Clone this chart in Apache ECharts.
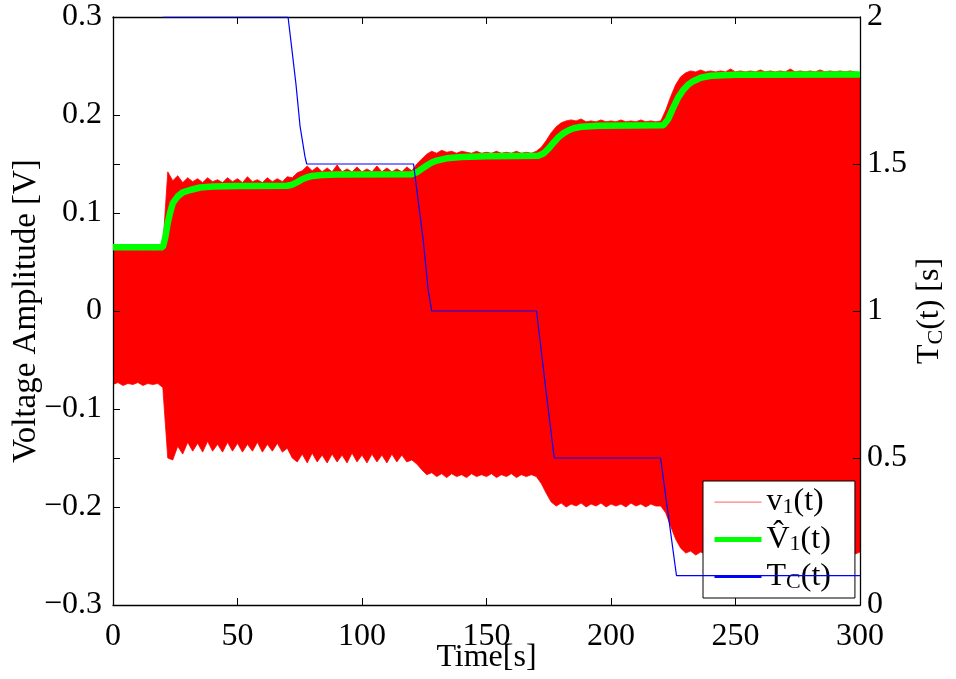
<!DOCTYPE html>
<html><head><meta charset="utf-8">
<script src="https://cdn.jsdelivr.net/npm/echarts@6/dist/echarts.min.js"></script>
<style>html,body{margin:0;padding:0;background:#fff}#c{width:956px;height:679px}</style>
</head><body><div id="c"></div>
<script>
// time samples [s] for the v1(t) envelope
const time = [0,2,4,6,8,10,12,14,16,18,20,22,24,26,28,30,32,34,36,38,40,42,44,46,48,50,52,54,56,58,60,62,64,66,68,70,72,74,76,78,80,82,84,86,88,90,92,94,96,98,100,102,104,106,108,110,112,114,116,118,120,122,124,126,128,130,132,134,136,138,140,142,144,146,148,150,152,154,156,158,160,162,164,166,168,170,172,174,176,178,180,182,184,186,188,190,192,194,196,198,200,202,204,206,208,210,212,214,216,218,220,222,224,226,228,230,232,234,236,238,240,242,244,246,248,250,252,254,256,258,260,262,264,266,268,270,272,274,276,278,280,282,284,286,288,290,292,294,296,298,300];
// upper envelope of v1(t) [V]
const v1Upper = [0.062,0.063,0.062,0.063,0.062,0.063,0.062,0.063,0.062,0.063,0.065,0.142,0.133,0.138,0.131,0.136,0.132,0.135,0.131,0.136,0.132,0.134,0.131,0.136,0.132,0.135,0.131,0.137,0.132,0.134,0.131,0.136,0.132,0.135,0.132,0.137,0.136,0.141,0.143,0.148,0.143,0.147,0.142,0.146,0.142,0.149,0.142,0.145,0.142,0.147,0.142,0.145,0.142,0.148,0.142,0.146,0.142,0.145,0.142,0.147,0.143,0.150,0.155,0.160,0.163,0.161,0.164,0.162,0.163,0.161,0.163,0.162,0.161,0.163,0.161,0.162,0.161,0.163,0.161,0.162,0.161,0.163,0.161,0.162,0.161,0.163,0.167,0.174,0.182,0.188,0.192,0.194,0.195,0.194,0.196,0.193,0.194,0.193,0.195,0.193,0.194,0.193,0.195,0.193,0.194,0.193,0.195,0.193,0.194,0.193,0.194,0.205,0.219,0.231,0.239,0.243,0.245,0.244,0.246,0.244,0.245,0.244,0.245,0.244,0.247,0.244,0.245,0.244,0.245,0.244,0.246,0.244,0.245,0.244,0.245,0.244,0.247,0.244,0.245,0.244,0.245,0.244,0.246,0.244,0.245,0.244,0.245,0.244,0.245,0.244,0.243];
// lower envelope of v1(t) [V]
const v1Lower = [-0.075,-0.073,-0.076,-0.074,-0.075,-0.073,-0.076,-0.074,-0.075,-0.074,-0.078,-0.150,-0.152,-0.138,-0.146,-0.134,-0.143,-0.135,-0.144,-0.133,-0.143,-0.136,-0.144,-0.134,-0.143,-0.135,-0.144,-0.136,-0.143,-0.134,-0.144,-0.136,-0.143,-0.135,-0.144,-0.140,-0.150,-0.154,-0.146,-0.155,-0.145,-0.154,-0.147,-0.155,-0.146,-0.154,-0.147,-0.155,-0.145,-0.154,-0.147,-0.155,-0.146,-0.154,-0.147,-0.155,-0.146,-0.154,-0.147,-0.154,-0.152,-0.156,-0.162,-0.167,-0.165,-0.169,-0.166,-0.170,-0.166,-0.169,-0.167,-0.170,-0.166,-0.169,-0.167,-0.169,-0.166,-0.170,-0.167,-0.169,-0.166,-0.170,-0.167,-0.169,-0.167,-0.169,-0.176,-0.186,-0.195,-0.199,-0.196,-0.200,-0.197,-0.199,-0.196,-0.200,-0.197,-0.199,-0.196,-0.200,-0.197,-0.199,-0.197,-0.200,-0.196,-0.199,-0.197,-0.200,-0.197,-0.199,-0.199,-0.206,-0.220,-0.233,-0.242,-0.247,-0.245,-0.249,-0.246,-0.248,-0.245,-0.248,-0.246,-0.250,-0.245,-0.248,-0.246,-0.248,-0.245,-0.249,-0.246,-0.248,-0.245,-0.248,-0.246,-0.250,-0.245,-0.248,-0.246,-0.248,-0.245,-0.249,-0.246,-0.248,-0.245,-0.248,-0.246,-0.250,-0.245,-0.248,-0.246];
// estimated amplitude V^1(t)
const vhatTime = [0,20,21,22,23,24,26,28,31,35,40,50,70,72,74,76,78,80,84,90,120,122,124,126,128,130,134,140,150,171,173,175,177,179,181,183,185,188,195,221,223,225,227,229,231,233,236,240,250,300];
const vhatValue = [0.065,0.065,0.075,0.090,0.101,0.110,0.117,0.121,0.1235,0.126,0.127,0.1275,0.1278,0.129,0.1315,0.1345,0.1365,0.1378,0.1388,0.1392,0.1395,0.1415,0.145,0.1485,0.1515,0.1535,0.1558,0.1572,0.158,0.1585,0.161,0.166,0.172,0.1775,0.1815,0.1845,0.1865,0.188,0.189,0.1895,0.196,0.2075,0.218,0.2255,0.231,0.2345,0.238,0.240,0.241,0.2412];
// T_C(t) [s]
const tcTime = [20,70.3,71.7,73.5,75.1,77.1,77.8,120.7,124.6,126.6,128,170.1,173.6,177.2,219.9,223.1,226.3,300];
const tcValue = [2,2,1.9,1.77,1.63,1.525,1.5,1.5,1.24,1.07,1.0,1.0,0.75,0.5,0.5,0.3,0.1,0.1];

const legendLabels = {
  v1: '{n|v}{s|1}{n|(t)}',
  vhat: '{n|V\u0302}{s|1}{n|(t)}',
  tc: '{n|T}{s|C}{n|(t)}'
};
const rightAxisName = '{n|T}{s|C}{n|(t) [s]}';
const xAxisName = 'Time[s]';
const leftAxisName = 'Voltage Amplitude [V]';

const FONT = 'Liberation Serif';
const chart = echarts.init(document.getElementById('c'), null, {renderer: 'canvas'});

const fmtLeft = v => {
  const r = Math.round(v * 10) / 10;
  if (r === 0) return '0';
  return (r < 0 ? '\u2212' : '') + Math.abs(r).toFixed(1);
};
const fmtRight = v => String(Math.round(v * 10) / 10);

const tickStyle = {show: true, inside: true, length: 7, lineStyle: {color: '#000', width: 1}};
const lineBlack = {show: true, onZero: false, lineStyle: {color: '#000', width: 1.3}};
const noLine = {show: false, onZero: false};
const labelStyle = {fontFamily: FONT, fontSize: 32, color: '#000'};

chart.setOption({
  animation: false,
  backgroundColor: '#fff',
  grid: {left: 113, right: 96, top: 17, bottom: 74, containLabel: false, outerBoundsMode: 'none'},
  xAxis: [
    {type: 'value', position: 'bottom', min: 0, max: 300, interval: 50, z: 3,
     axisLine: lineBlack, axisTick: tickStyle, splitLine: {show: false},
     axisLabel: Object.assign({margin: 16}, labelStyle),
     name: xAxisName, nameLocation: 'middle', nameGap: 37, nameMoveOverlap: false,
     nameTextStyle: {fontFamily: FONT, fontSize: 32, color: '#000'}},
    {type: 'value', position: 'top', min: 0, max: 300, interval: 50, z: 0,
     axisLine: lineBlack, axisTick: tickStyle, splitLine: {show: false},
     axisLabel: {show: false}}
  ],
  yAxis: [
    {type: 'value', position: 'left', min: -0.3, max: 0.3, interval: 0.1, z: 3,
     axisLine: lineBlack, axisTick: tickStyle, splitLine: {show: false},
     axisLabel: Object.assign({margin: 11, formatter: fmtLeft}, labelStyle),
     name: leftAxisName, nameLocation: 'middle', nameGap: 70, nameRotate: 90, nameMoveOverlap: false,
     nameTextStyle: {fontFamily: FONT, fontSize: 33, color: '#000'}},
    {type: 'value', position: 'right', min: 0, max: 2, interval: 0.5, z: 3,
     axisLine: lineBlack, axisTick: tickStyle, splitLine: {show: false},
     axisLabel: Object.assign({margin: 7, formatter: fmtRight}, labelStyle),
     name: rightAxisName, nameLocation: 'middle', nameGap: 53, nameRotate: 90, nameMoveOverlap: false,
     nameTextStyle: {color: '#000', rich: {
       n: {fontFamily: FONT, fontSize: 32, color: '#000', lineHeight: 34},
       s: {fontFamily: FONT, fontSize: 22, color: '#000', lineHeight: 20, verticalAlign: 'bottom'}
     }}},
    {type: 'value', position: 'left', min: 0, max: 2, interval: 0.5, z: 0,
     axisLine: noLine, axisTick: tickStyle, splitLine: {show: false},
     axisLabel: {show: false}},
    {type: 'value', position: 'right', min: -0.3, max: 0.3, interval: 0.1, z: 0,
     axisLine: noLine, axisTick: tickStyle, splitLine: {show: false},
     axisLabel: {show: false}}
  ],
  legend: {
    orient: 'vertical', left: 703, top: 481,
    itemWidth: 47, itemHeight: 14, itemGap: 5.5,
    padding: [5, 24, 5, 9],
    backgroundColor: '#fff', borderColor: '#000', borderWidth: 1, borderRadius: 0,
    selectedMode: false,
    formatter: name => legendLabels[name],
    textStyle: {color: '#000', rich: {
      n: {fontFamily: FONT, fontSize: 32, color: '#000', lineHeight: 32},
      s: {fontFamily: FONT, fontSize: 22, color: '#000', lineHeight: 18, verticalAlign: 'bottom'}
    }},
    data: [
      {name: 'v1', icon: 'path://M0,6.5h47v1.2h-47zM0,0h0.01v14h-0.01z',
       itemStyle: {color: '#ff8080', borderWidth: 0, borderColor: '#ff8080', opacity: 1}},
      {name: 'vhat', itemStyle: {opacity: 0}, lineStyle: {width: 5}},
      {name: 'tc', itemStyle: {opacity: 0}}
    ]
  },
  series: [
    {name: 'v1', type: 'custom', xAxisIndex: 0, yAxisIndex: 0, silent: true, clip: true, z: 2,
     itemStyle: {color: '#ff0000'},
     encode: {x: 0, y: [1, 2]},
     data: time.map((t, i) => [t, v1Upper[i], v1Lower[i]]),
     renderItem: (params, api) => {
       if (params.dataIndex !== 0) return null;
       const pts = [];
       for (let i = 0; i < time.length; i++) pts.push(api.coord([time[i], v1Upper[i]]));
       for (let i = time.length - 1; i >= 0; i--) pts.push(api.coord([time[i], v1Lower[i]]));
       return {type: 'polygon', shape: {points: pts},
               style: {fill: '#ff0000', stroke: '#ff0000', lineWidth: 0.8}};
     }},
    {name: 'vhat', type: 'line', xAxisIndex: 0, yAxisIndex: 0, symbol: 'none', silent: true, z: 3,
     lineStyle: {color: '#00ff00', width: 6.5}, itemStyle: {color: '#00ff00'},
     data: vhatTime.map((t, i) => [t, vhatValue[i]])},
    {name: 'tc', type: 'line', xAxisIndex: 0, yAxisIndex: 1, symbol: 'none', silent: true, z: 4,
     lineStyle: {color: '#0000ff', width: 1.2}, itemStyle: {color: '#0000ff'},
     data: tcTime.map((t, i) => [t, tcValue[i]])}
  ]
});
</script>
</body></html>
